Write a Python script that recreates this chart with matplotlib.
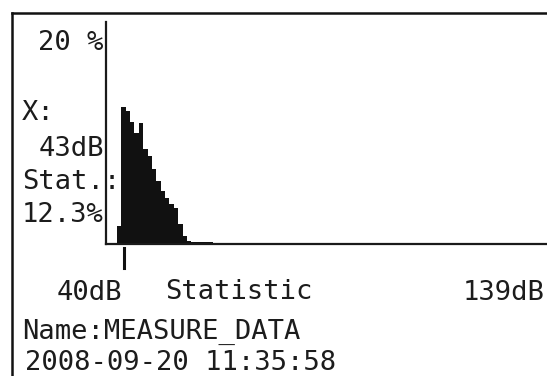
import matplotlib
matplotlib.use("Agg")
import matplotlib.pyplot as plt
from matplotlib.lines import Line2D

# Data: level (dB) vs statistic (%)
levels_db = [42, 43, 44, 45, 46, 47, 48, 49, 50, 51, 52, 53, 54, 55, 56, 57, 58,
             59, 60, 61, 62, 63, 64, 65, 66]
stat_pct = [1.6, 12.3, 12.0, 11.0, 10.0, 10.9, 8.6, 7.9, 6.8, 5.7, 4.8, 4.1, 3.6, 3.2, 1.8, 0.7, 0.25,
            0.15, 0.15, 0.15, 0.15, 0.15, 0.12, 0.12, 0.1]
cursor_db = 43
y_max_pct = 20
x_min_label = "40dB"
x_max_label = "139dB"

W, H = 547, 376
fig = plt.figure(figsize=(W / 100, H / 100), dpi=100)
fig.patch.set_facecolor("white")

def fx(x):
    return x / W

def fy(y):
    return 1 - y / H

# Histogram axes
ax_l, ax_r, ax_t, ax_b = 106, 547, 22, 244
ax = fig.add_axes([fx(ax_l), fy(ax_b), fx(ax_r) - fx(ax_l), fy(ax_t) - fy(ax_b)])
ax.bar(levels_db, stat_pct, width=1.0, color="#111111", edgecolor="none", align="center")
ax.set_xlim(39, 139.8)
ax.set_ylim(0, y_max_pct)
ax.set_xticks([])
ax.set_yticks([])
for s in ["top", "right"]:
    ax.spines[s].set_visible(False)
for s in ["left", "bottom"]:
    ax.spines[s].set_linewidth(1.6)
    ax.spines[s].set_color("#1a1a1a")
ax.set_facecolor("none")

# Cursor tick below the axis
trans = ax.get_xaxis_transform()
ax.plot([cursor_db, cursor_db], [-4 / 222, -24 / 222], color="#111111",
        lw=2.2, transform=trans, clip_on=False)

# Frame lines
fig.add_artist(Line2D([fx(12), fx(547)], [fy(13), fy(13)], color="#111111", lw=1.8))
fig.add_artist(Line2D([fx(12), fx(12)], [fy(13), fy(376)], color="#111111", lw=1.8))

font = dict(family="DejaVu Sans Mono", fontsize=19.5, color="#1c1c1c", va="baseline", ha="left")

def txt(x, y, s):
    fig.text(fx(x), fy(y), s, **font)

txt(38, 50, "20 %")
txt(22, 120, "X:")
txt(39, 156, f"{cursor_db}dB")
txt(22, 189, "Stat.:")
txt(22, 222, "12.3%")
txt(57, 300, x_min_label)
txt(165, 299, "Statistic")
txt(463, 300, x_max_label)
txt(22, 339, "Name:MEASURE_DATA")
txt(25, 370, "2008-09-20 11:35:58")

fig.savefig("out.png", dpi=100, facecolor="white")
